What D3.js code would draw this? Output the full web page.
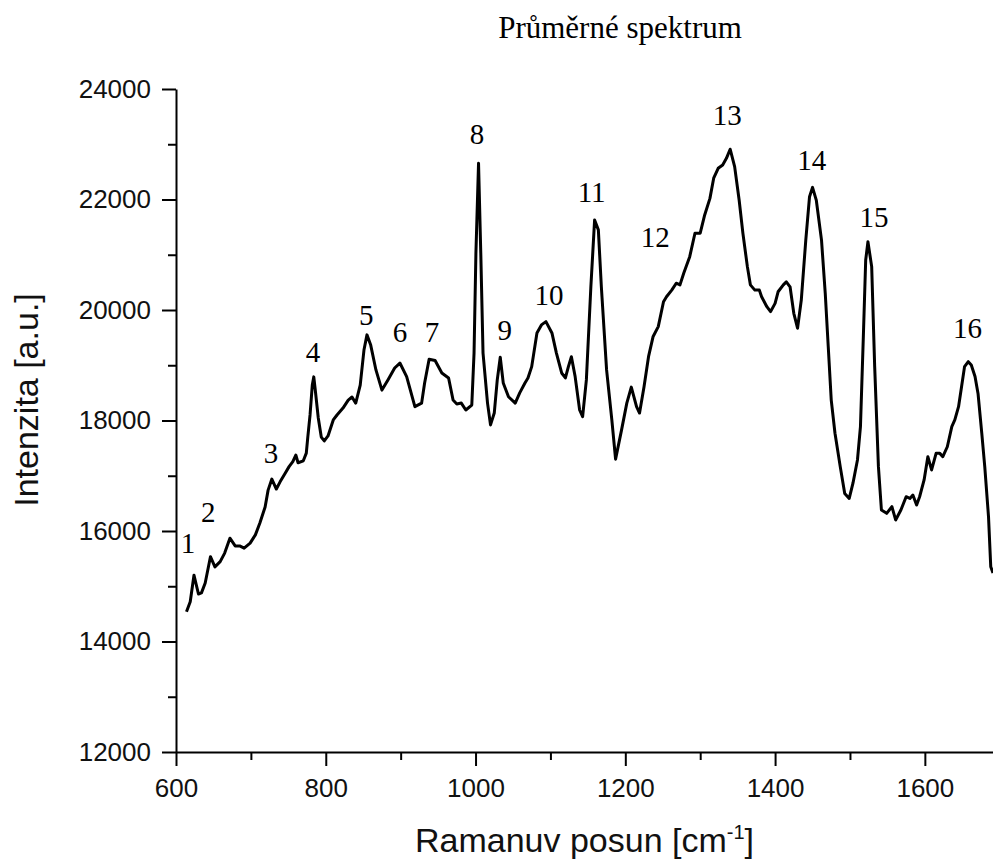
<!DOCTYPE html>
<html>
<head>
<meta charset="utf-8">
<script src="https://cdn.jsdelivr.net/npm/d3@7"></script>
<style>
  body { margin: 0; background: #fff; }
  svg { display: block; }
</style>
</head>
<body>
<svg id="main_canvas"></svg>
<script>
const width = 993;
const height = 861;

// Raman shift [cm-1] and intensity [a.u.]
const ramanShift = [
  614, 619, 624, 630, 634, 639, 646, 652, 659, 665, 672, 679, 685, 691, 699,
  706, 712, 719, 723, 728, 734, 739, 746, 751, 756, 760, 763, 770, 774, 776,
  779, 782, 784, 786, 790, 794, 798, 803, 810, 815, 823, 830, 835, 840, 846,
  851, 855, 860, 867, 875, 883, 892, 899, 908, 919, 928, 932, 938, 946, 955,
  964, 970, 975, 981, 987, 995, 998, 1000.5, 1004, 1007, 1010, 1016, 1020, 1025, 1029,
  1033, 1037, 1044, 1053, 1059, 1066, 1070, 1075, 1082, 1088, 1094, 1102, 1108, 1115, 1120,
  1124, 1128, 1133, 1139, 1143, 1148, 1154, 1159, 1164, 1168, 1175, 1182, 1187, 1195, 1202,
  1208, 1215, 1219, 1225, 1231, 1237, 1244, 1251, 1255, 1262, 1268, 1273, 1278, 1286, 1293,
  1300, 1306, 1313, 1318, 1324, 1330, 1335, 1340, 1346, 1352, 1357, 1363, 1367, 1373, 1379,
  1382, 1389, 1394, 1400, 1404, 1411, 1415, 1420, 1425, 1430, 1435, 1441, 1446, 1450, 1455,
  1462, 1467, 1471, 1475, 1480, 1487, 1493, 1499, 1504, 1510, 1514, 1518, 1521, 1524, 1529,
  1533, 1538, 1542, 1549, 1556, 1561, 1568, 1575, 1580, 1584, 1589, 1593, 1599, 1604, 1609,
  1615, 1620, 1624, 1630, 1636, 1640, 1645, 1649, 1653, 1658, 1662, 1667, 1671, 1676, 1680,
  1685, 1688, 1691
];
const intensity = [
  14540, 14720, 15200, 14860, 14880, 15060, 15535, 15350, 15445, 15600, 15870, 15730, 15730, 15690, 15780,
  15930, 16145, 16435, 16740, 16940, 16760, 16890, 17050, 17165, 17255, 17375, 17235, 17270, 17410, 17700,
  18100, 18640, 18790, 18550, 18045, 17700, 17630, 17720, 18010, 18100, 18225, 18370, 18425, 18315, 18640,
  19275, 19550, 19365, 18915, 18550, 18735, 18950, 19040, 18795, 18250, 18315, 18680, 19110, 19085, 18860,
  18770, 18370, 18300, 18315, 18190, 18280, 19220, 21030, 22655, 21030, 19220, 18315, 17920, 18135, 18735,
  19145, 18680, 18430, 18315, 18500, 18680, 18770, 18975, 19585, 19730, 19790, 19585, 19220, 18860, 18770,
  18975, 19155, 18795, 18190, 18070, 18735, 20420, 21630, 21450, 20420, 18915, 18010, 17300, 17830, 18315,
  18605, 18250, 18135, 18610, 19155, 19515, 19700, 20150, 20240, 20360, 20485, 20455, 20665, 20965, 21390,
  21390, 21720, 22020, 22385, 22565, 22625, 22745, 22910, 22595, 21990, 21390, 20785, 20455, 20360, 20360,
  20240, 20060, 19970, 20120, 20330, 20455, 20510, 20420, 19940, 19670, 20180, 21265, 22050, 22220, 21990,
  21265, 20300, 19335, 18370, 17770, 17165, 16680, 16590, 16865, 17285, 17890, 19580, 20905, 21235, 20785,
  18975, 17165, 16380, 16320, 16440, 16200, 16380, 16620, 16590, 16650, 16470, 16620, 16925, 17345, 17105,
  17405, 17405, 17345, 17525, 17890, 18010, 18250, 18610, 18975, 19065, 19005, 18795, 18490, 17770, 17165,
  16260, 15355, 15240
];

// numbered peak labels: text, anchor wavenumber, anchor intensity (baseline)
const peakNames = ["1", "2", "3", "4", "5", "6", "7", "8", "9", "10", "11", "12", "13", "14", "15", "16"];
const peakShift = [616, 643, 727, 783, 854, 899, 942, 1002, 1039, 1098, 1155, 1240, 1336, 1449, 1532, 1657];
const peakLevel = [15600, 16165, 17230, 19060, 19730, 19420, 19420, 23005, 19455, 20090, 21955, 21140, 23350, 22535, 21505, 19495];

const yTicks = [12000, 14000, 16000, 18000, 20000, 22000, 24000];
const xTicks = [600, 800, 1000, 1200, 1400, 1600];

const margin = { top: 89, right: 0, bottom: 109, left: 176 };

const svg = d3.select("#main_canvas").attr("width", width).attr("height", height);

const x = d3.scaleLinear().domain([600, 1691]).range([margin.left, width - margin.right]);
const y = d3.scaleLinear().domain([12000, 24000]).range([height - margin.bottom, margin.top]);

const axisFont = "'Liberation Sans', Arial, sans-serif";
const serifFont = "'Liberation Serif', 'Times New Roman', serif";

// minor ticks first, then major ticks with labels
svg.append("g")
  .attr("transform", `translate(0,${y(12000)})`)
  .call(d3.axisBottom(x).tickValues(d3.range(700, 1700, 200)).tickSize(8).tickFormat("").tickSizeOuter(0))
  .call((g) => g.select(".domain").remove());
svg.append("g")
  .attr("transform", `translate(${x(600)},0)`)
  .call(d3.axisLeft(y).tickValues(d3.range(13000, 24000, 2000)).tickSize(8).tickFormat("").tickSizeOuter(0))
  .call((g) => g.select(".domain").remove());

const xAxis = svg.append("g")
  .attr("transform", `translate(0,${y(12000)})`)
  .call(d3.axisBottom(x).tickValues(xTicks).tickSize(14).tickPadding(13).tickSizeOuter(0).tickFormat(d3.format("d")));

const yAxis = svg.append("g")
  .attr("transform", `translate(${x(600)},0)`)
  .call(d3.axisLeft(y).tickValues(yTicks).tickSize(14).tickPadding(11).tickSizeOuter(0).tickFormat(d3.format("d")));

svg.selectAll(".tick line, .domain").attr("stroke", "#000").attr("stroke-width", 2);
svg.selectAll(".tick text")
  .attr("fill", "#111")
  .style("font-family", axisFont)
  .style("font-size", "26px");

// spectrum
const points = ramanShift.map((d, i) => [d, intensity[i]]);
const line = d3.line().x((d) => x(d[0])).y((d) => y(d[1]));

svg.append("path")
  .datum(points)
  .attr("fill", "none")
  .attr("stroke", "#000")
  .attr("stroke-width", 3)
  .attr("stroke-linejoin", "round")
  .attr("d", line);

// peak numbers
svg.append("g")
  .selectAll("text")
  .data(peakNames)
  .join("text")
  .attr("x", (d, i) => x(peakShift[i]))
  .attr("y", (d, i) => y(peakLevel[i]))
  .attr("text-anchor", "middle")
  .style("font-family", serifFont)
  .style("font-size", "29px")
  .attr("fill", "#000")
  .text((d) => d);

// title
svg.append("text")
  .attr("x", 620)
  .attr("y", 38)
  .attr("text-anchor", "middle")
  .style("font-family", serifFont)
  .style("font-size", "31px")
  .attr("fill", "#000")
  .text("Průměrné spektrum");

// axis titles
const xTitle = svg.append("text")
  .attr("x", (margin.left + width) / 2)
  .attr("y", 852)
  .attr("text-anchor", "middle")
  .style("font-family", axisFont)
  .style("font-size", "34px")
  .attr("fill", "#111");
xTitle.append("tspan").text("Ramanuv posun [cm");
xTitle.append("tspan").attr("dy", -13).style("font-size", "20px").text("-1");
xTitle.append("tspan").attr("dy", 13).text("]");

svg.append("text")
  .attr("transform", "translate(38,400) rotate(-90)")
  .attr("text-anchor", "middle")
  .style("font-family", axisFont)
  .style("font-size", "34px")
  .attr("fill", "#111")
  .text("Intenzita [a.u.]");
</script>
</body>
</html>
